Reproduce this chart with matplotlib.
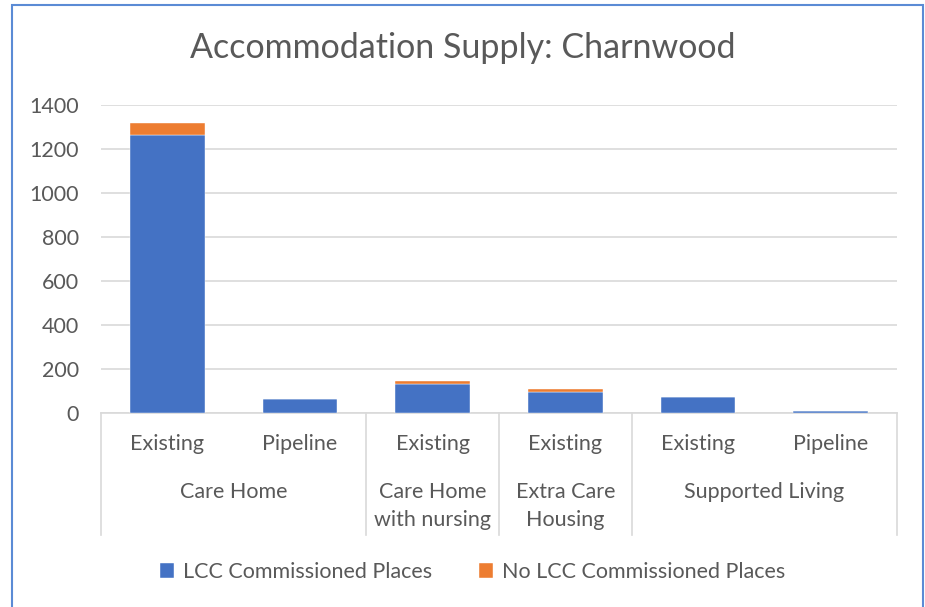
import numpy as np
import matplotlib.pyplot as plt
from matplotlib.patches import Rectangle

plt.rcParams['font.family'] = ['Lato', 'DejaVu Sans']

inner_labels = ['Existing', 'Pipeline', 'Existing', 'Existing', 'Existing', 'Pipeline']
groups = ['Care Home', 'Care Home\nwith nursing', 'Extra Care\nHousing', 'Supported Living']
group_sizes = [2, 1, 1, 2]
lcc = [1265, 62, 133, 97, 73, 11]
no_lcc = [53, 0, 11, 13, 0, 0]

W, H = 925, 607
fig = plt.figure(figsize=(W / 100, H / 100), dpi=100)
left, right, top, bottom = 101, 897, 105, 413
ax = fig.add_axes([left / W, 1 - bottom / H, (right - left) / W, (bottom - top) / H])

txt = '#595959'
grid = '#d9d9d9'
fs = 15.5
x = np.arange(len(lcc))
ax.bar(x, lcc, width=0.565, color='#4472c4', edgecolor='white', linewidth=0.3, zorder=3,
       label='LCC Commissioned Places')
ax.bar(x, no_lcc, width=0.565, bottom=lcc, color='#ed7d31', edgecolor='white', linewidth=0.3, zorder=3,
       label='No LCC Commissioned Places')

ax.set_xlim(-0.5, len(lcc) - 0.5)
ax.set_ylim(0, 1400)
ax.set_yticks(np.arange(0, 1401, 200))
ax.yaxis.grid(True, color=grid, linewidth=1.2)
ax.set_axisbelow(True)
for s in ['top', 'right', 'left']:
    ax.spines[s].set_visible(False)
ax.spines['bottom'].set_color(grid)
ax.spines['bottom'].set_linewidth(1.2)
ax.tick_params(axis='y', length=0, labelsize=fs, labelcolor=txt, pad=16)
ax.set_xticks([])

# multi-level category axis
trans = ax.get_xaxis_transform()
px = 1.0 / (bottom - top)
for i, lab in enumerate(inner_labels):
    ax.text(i, -(444 - bottom) * px, lab, transform=trans, ha='center', va='center',
            fontsize=fs, color=txt)
start = 0
seps = [-0.5]
for g, n in zip(groups, group_sizes):
    c = start + (n - 1) / 2
    ylab = -(506 - bottom) * px if '\n' in g else -(492 - bottom) * px
    ax.text(c, ylab, g, transform=trans, ha='center', va='center',
            fontsize=fs, color=txt, linespacing=1.5)
    start += n
    seps.append(start - 0.5)
for s in seps:
    ax.plot([s, s], [0, -(535 - bottom) * px], transform=trans, color=grid, linewidth=1.2, clip_on=False)

fig.suptitle('Accommodation Supply: Charnwood', y=1 - 48 / H, va='center', fontsize=24.5, color=txt)

fig.legend(loc='center', bbox_to_anchor=(0.511, 1 - 572 / H), ncol=2, frameon=False,
           fontsize=fs, labelcolor=txt, handlelength=0.65, handleheight=0.65,
           handletextpad=0.4, columnspacing=2.2)

fig.patches.append(Rectangle((12 / W, -0.01), (923 - 12) / W, 1.01 - 5 / H, transform=fig.transFigure,
                             fill=False, edgecolor='#5b8bd5', linewidth=1.5))

fig.savefig('out.png', dpi=100)
